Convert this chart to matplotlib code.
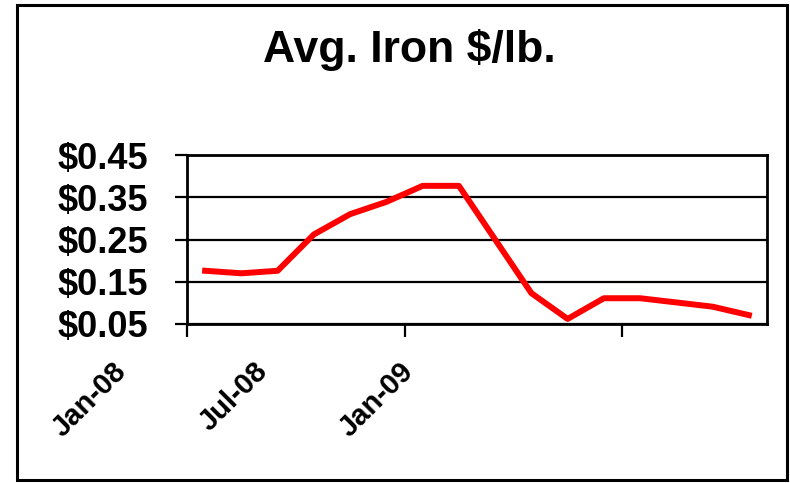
import numpy as np
import matplotlib
matplotlib.use("Agg")
import matplotlib.pyplot as plt
import matplotlib.transforms as mtransforms
from matplotlib.patches import Rectangle

plt.rcParams['font.family'] = ['Liberation Sans', 'DejaVu Sans']

# monthly average price, Jan-08 .. Apr-09
months = ["Jan-08", "Feb-08", "Mar-08", "Apr-08", "May-08", "Jun-08", "Jul-08", "Aug-08",
          "Sep-08", "Oct-08", "Nov-08", "Dec-08", "Jan-09", "Feb-09", "Mar-09", "Apr-09"]
price = [0.176, 0.170, 0.176, 0.262, 0.310, 0.339, 0.377, 0.377,
         0.250, 0.123, 0.062, 0.111, 0.111, 0.101, 0.091, 0.071]
yticks = [0.05, 0.15, 0.25, 0.35, 0.45]
xlabels = ["Jan-08", "Jul-08", "Jan-09"]

W, H = 790, 483
fig = plt.figure(figsize=(W / 100, H / 100), dpi=100)
ax = fig.add_axes([187 / W, 1 - 324 / H, (767 - 187) / W, (324 - 155) / H])

x = np.arange(len(price))
ax.plot(x, price, color="#ff0000", lw=4.3, zorder=3)

ax.set_xlim(-0.5, len(price) - 0.5)
ax.set_ylim(0.05, 0.45)
ax.set_yticks(yticks)
ax.set_yticklabels([f"${v:.2f}" for v in yticks], fontsize=26, fontweight="bold")
ax.grid(axis="y", color="black", lw=1.6)
ax.set_axisbelow(True)

# ticks sit on category boundaries, every 6 months
tick_pos = [i - 0.5 for i in range(0, len(price), 6)]
ax.set_xticks(tick_pos)
ax.set_xticklabels(xlabels, fontsize=21, fontweight="bold", rotation=45,
                   ha="right", va="center", rotation_mode="anchor")
ax.tick_params(axis="y", direction="out", length=9, width=1.6, color="black", pad=19)
ax.tick_params(axis="x", direction="out", length=9, width=1.6, color="black", pad=22)

# Excel left the date labels drifting away from their ticks
shifts = [-65, -141, -213]
for lab, dx in zip(ax.get_xticklabels(), shifts):
    lab.set_transform(lab.get_transform() +
                      mtransforms.ScaledTranslation(dx / 100, 0, fig.dpi_scale_trans))

for s in ax.spines.values():
    s.set_linewidth(2)
    s.set_color("black")

fig.text(409 / W, 1 - 50 / H, "Avg. Iron $/lb.", fontsize=32, fontweight="bold",
         ha="center", va="center")

fig.patches.append(Rectangle((17 / W, 1 - 480 / H), (787 - 17) / W, (480 - 5) / H,
                             transform=fig.transFigure, fill=False, lw=2.2,
                             edgecolor="black"))

fig.savefig("out.png", dpi=100)
